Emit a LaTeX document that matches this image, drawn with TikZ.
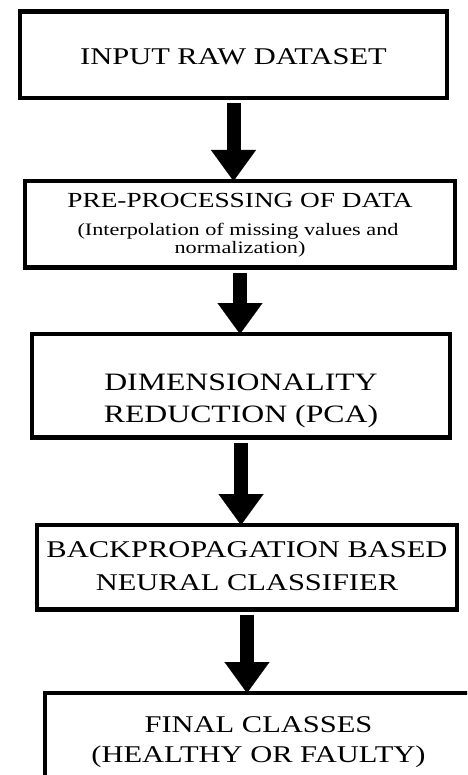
\documentclass[tikz,border=0pt]{standalone}
\usepackage{fontspec}
\setmainfont{Liberation Serif}[FakeStretch=1.27]
\usetikzlibrary{arrows.meta}
\begin{document}
\begin{tikzpicture}[x=1pt,y=-1pt,
  stage/.style={draw=black, line width=4.5pt, fill=white, inner sep=0pt, outer sep=0pt},
  flow/.style={line width=14pt, -{Triangle[length=31pt,width=45pt,line width=0.1pt]}},
  hd/.style={anchor=base, inner sep=0pt, font=\fontsize{24}{28}\selectfont},
  sub/.style={anchor=base, inner sep=0pt, font=\fontsize{17.5}{19}\selectfont}]
\useasboundingbox (0,0) rectangle (467,775);
\clip (0,0) rectangle (467,775);

% process stages
\node[stage, minimum width=427pt, minimum height=86.5pt]  (b1) at (233.5,54.75) {};
\node[stage, minimum width=430pt, minimum height=86.5pt]  (b2) at (240,224.25) {};
\node[stage, minimum width=418pt, minimum height=103.5pt] (b3) at (241,385.75) {};
\node[stage, minimum width=420pt, minimum height=84.5pt]  (b4) at (247,567.25) {};
\node[stage, minimum width=427pt, minimum height=110pt]   (b5) at (258.5,748) {};

% labels
\node[hd] (t1) at (233.5,65) {INPUT RAW DATASET};
\node[hd, font=\fontsize{21.5}{26}\selectfont] (t2a) at (240,208) {PRE-PROCESSING OF DATA};
\node[sub] (t2b) at (238,236) {(Interpolation of missing values and};
\node[sub] (t2c) at (240,254) {normalization)};
\node[hd, font=\fontsize{25}{30}\selectfont] (t3a) at (241,390) {DIMENSIONALITY};
\node[hd, font=\fontsize{25}{30}\selectfont] (t3b) at (241,422) {REDUCTION (PCA)};
\node[hd] (t4a) at (247,557) {BACKPROPAGATION BASED};
\node[hd] (t4b) at (247,590) {NEURAL CLASSIFIER};
\node[hd] (t5a) at (258.5,732) {FINAL CLASSES};
\node[hd] (t5b) at (258.5,762) {(HEALTHY OR FAULTY)};

% flow arrows
\draw[flow] ([yshift=-5pt]b1.south) -- (b2.north -| b1.south);
\draw[flow] ([yshift=-5pt]b2.south) -- (b3.north -| b2.south);
\draw[flow] ([yshift=-5pt]b3.south) -- (b4.north -| b3.south);
\draw[flow] ([yshift=-5pt]b4.south) -- (b5.north -| b4.south);
\end{tikzpicture}
\end{document}
